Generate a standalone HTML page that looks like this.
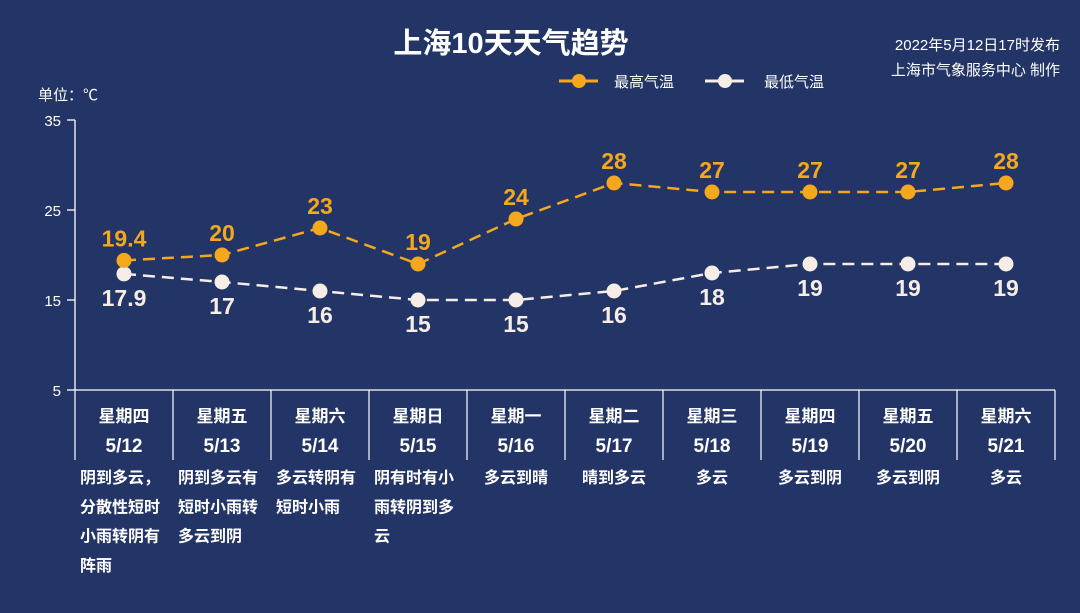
<!DOCTYPE html>
<html><head><meta charset="utf-8"><style>
html,body{margin:0;padding:0;background:#233466;}
svg{display:block;font-family:"Liberation Sans","Noto Sans CJK SC",sans-serif;}
</style></head><body>
<svg id="chart" width="1080" height="613" viewBox="0 0 1080 613" xmlns="http://www.w3.org/2000/svg">
<rect width="1080" height="613" fill="#233466"/>
<text x="511" y="53" text-anchor="middle" fill="#fff" font-size="29" font-weight="bold">上海10天天气趋势</text>
<text x="1060" y="50" text-anchor="end" fill="#fff" font-size="15">2022年5月12日17时发布</text>
<text x="1060" y="75" text-anchor="end" fill="#fff" font-size="15">上海市气象服务中心 制作</text>
<g>
<line x1="559" y1="81" x2="598" y2="81" stroke="#F5A81C" stroke-width="3"/>
<circle cx="579" cy="81" r="7" fill="#F5A81C"/>
<text x="614" y="87" fill="#fff" font-size="15">最高气温</text>
</g>
<g>
<line x1="705" y1="81" x2="744" y2="81" stroke="#F5EDE6" stroke-width="3"/>
<circle cx="725" cy="81" r="7" fill="#F5EDE6"/>
<text x="764" y="87" fill="#fff" font-size="15">最低气温</text>
</g>
<text x="38" y="100" fill="#fff" font-size="15">单位：℃</text>
<g id="axes"></g>
<g id="marks"></g>
<g id="table"></g>
</svg>
<script>
const days = ["星期四","星期五","星期六","星期日","星期一","星期二","星期三","星期四","星期五","星期六"];
const dates = ["5/12","5/13","5/14","5/15","5/16","5/17","5/18","5/19","5/20","5/21"];
const highs = [19.4,20,23,19,24,28,27,27,27,28];
const lows = [17.9,17,16,15,15,16,18,19,19,19];
const yTicks = [35,25,15,5];
const weather = [
 ["阴到多云，","分散性短时","小雨转阴有","阵雨"],
 ["阴到多云有","短时小雨转","多云到阴"],
 ["多云转阴有","短时小雨"],
 ["阴有时有小","雨转阴到多","云"],
 ["多云到晴"],["晴到多云"],["多云"],["多云到阴"],["多云到阴"],["多云"]
];
const NS="http://www.w3.org/2000/svg";
const X0=75,X1=1055,Y0=390,Y1=120,VMIN=5,VMAX=35;
const colW=(X1-X0)/days.length;
const xs=i=>X0+colW*(i+0.5);
const ys=v=>Y0-(v-VMIN)/(VMAX-VMIN)*(Y0-Y1);
function el(tag,attrs,parent,text){const e=document.createElementNS(NS,tag);for(const k in attrs)e.setAttribute(k,attrs[k]);if(text!==undefined)e.textContent=text;parent.appendChild(e);return e;}
const axes=document.getElementById('axes');
let a=el('line',{x1:X0,y1:Y1,x2:X0,y2:Y0,stroke:'#fff','stroke-width':1.3},axes);


a=el('line',{x1:X0,y1:Y0,x2:X1,y2:Y0,stroke:'#fff','stroke-width':1.3},axes);


yTicks.forEach(t=>{
 const y=ys(t);
 const l=el('line',{x1:X0-8,y1:y,x2:X0,y2:y,stroke:'#fff','stroke-width':1.3},axes);
 
 
 const tx=el('text',{x:X0-14,y:y+6,'text-anchor':'end',fill:'#fff','font-size':15},axes,t);
 
 
});
const marks=document.getElementById('marks');
function series(vals,color,name,above){
 const p=el('polyline',{points:vals.map((v,i)=>xs(i)+','+ys(v)).join(' '),fill:'none',stroke:color,'stroke-width':2.5,'stroke-dasharray':'12 7'},marks);
 
 
 vals.forEach((v,i)=>{
  const c=el('circle',{cx:xs(i),cy:ys(v),r:7.5,fill:color},marks);
  
  
  const t=el('text',{x:xs(i),y:above?ys(v)-14:ys(v)+32,'text-anchor':'middle',fill:color==='#F5A81C'?'#F5A81C':'#F5EDE6','font-size':23,'font-weight':'bold'},marks,v);
  
  
 });
}
series(lows,'#F5EDE6','low-temp',false);
series(highs,'#F5A81C','high-temp',true);
const table=document.getElementById('table');
for(let i=0;i<=days.length;i++){
 const x=X0+colW*i;
 const l=el('line',{x1:x,y1:Y0,x2:x,y2:460,stroke:'#fff','stroke-width':1.2},table);
 
 
}
days.forEach((d,i)=>{
 let t=el('text',{x:xs(i),y:422,'text-anchor':'middle',fill:'#fff','font-size':17,'font-weight':'bold'},table,d);
 
 
 t=el('text',{x:xs(i),y:452,'text-anchor':'middle',fill:'#fff','font-size':19,'font-weight':'bold'},table,dates[i]);
 
 
 const lines=weather[i];
 lines.forEach((ln,j)=>{
  const multi=lines.length>1;
  const w=el('text',{x:multi?X0+colW*i+5:xs(i),y:483+j*29.3,'text-anchor':multi?'start':'middle',fill:'#fff','font-size':16,'font-weight':'bold'},table,ln);
  
  
 });
});
</script>
</body></html>
